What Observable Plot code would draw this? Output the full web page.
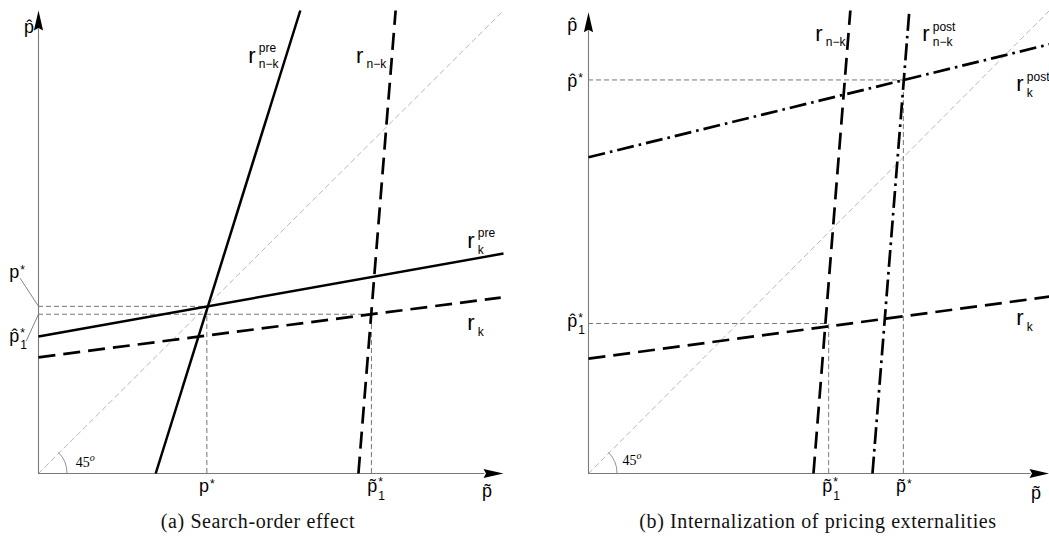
<!DOCTYPE html>
<html>
<head>
<meta charset="utf-8">
<script src="https://cdn.jsdelivr.net/npm/d3@7"></script>
<script src="https://cdn.jsdelivr.net/npm/@observablehq/plot@0.6"></script>
<style>
  html, body { margin: 0; padding: 0; background: #fff; }
  #wrap { position: relative; width: 1049px; height: 548px; }
  #left { position: absolute; left: 0; top: 0; }
  #right { position: absolute; left: 524px; top: 0; }
  .cap { position: absolute; top: 510px; font-family: "Liberation Serif", "Times New Roman", serif; font-size: 20px; letter-spacing: 0.6px; line-height: 22px; color: #111; white-space: nowrap; text-align: center; }
  svg { overflow: visible; }
</style>
</head>
<body>
<div id="wrap">
  <div id="left"></div>
  <div id="right"></div>
  <div class="cap" style="left:0px;width:516px;">(a) Search-order effect</div>
  <div class="cap" style="left:560px;width:516px;">(b) Internalization of pricing externalities</div>
</div>
<script>
// ---------- Data (panel coordinates, 0–100 on each axis) ----------
// Panel (a): Search-order effect
const a_rnk_pre = [[25.2, 0], [56.3, 100]];   // r_{n-k}^{pre}, solid
const a_rnk     = [[68.8, 0], [76.8, 100]];   // r_{n-k}, dashed
const a_rk_pre  = [[0, 29.6], [100, 47.5]];   // r_k^{pre}, solid
const a_rk      = [[0, 25.1], [99.4, 38.0]];  // r_k, dashed
const a_diag    = [[0, 0], [100, 100]];       // 45° line
const a_pStar   = [36.2, 36.1];               // p* (x, y)
const a_p1Star  = [71.6, 34.4];               // p̃1* (x), p̂1* (y)

// Panel (b): Internalization of pricing externalities
const b_rk       = [[0, 24.8], [100, 38.2]];   // r_k, dashed
const b_rnk      = [[48.8, 0], [56.8, 100]];   // r_{n-k}, dashed
const b_rnk_post = [[61.6, 0], [69.6, 100]];   // r_{n-k}^{post}, dash-dot
const b_rk_post  = [[0, 68.3], [100, 92.7]];   // r_k^{post}, dash-dot
const b_diag     = [[0, 0], [100, 100]];
const b_pStar    = [68.3, 85.0];               // p̃* (x), p̂* (y)
const b_p1Star   = [52.1, 32.4];               // p̃1* (x), p̂1* (y)

// ---------- Styles ----------
const SANS = "Liberation Sans, Arial, Helvetica, sans-serif";
const SERIF = "Liberation Serif, Times New Roman, serif";
const HAT = "p\u0302", TIL = "p\u0303", MINUS = "n\u2212k";

const arrowHead = {
  draw(ctx) {
    ctx.moveTo(0, 0);
    ctx.lineTo(4.6, 20);
    ctx.lineTo(0, 17.5);
    ctx.lineTo(-4.6, 20);
    ctx.closePath();
  }
};

function line(data, kind) {
  const base = {x: d => d[0], y: d => d[1], stroke: "black", strokeWidth: 2.7, strokeLinecap: "butt"};
  if (kind === "dash") base.strokeDasharray = "17,8";
  if (kind === "dashdot") base.strokeDasharray = "17,5,2.6,5";
  if (kind === "solid") base.strokeWidth = 2.5;
  return Plot.line(data, base);
}

function guideH(y, x2) {
  return Plot.ruleY([y], {x1: 0, x2: x2, stroke: "#666", strokeWidth: 0.9, strokeDasharray: "5,3"});
}
function guideV(x, y2) {
  return Plot.ruleX([x], {y1: 0, y2: y2, stroke: "#666", strokeWidth: 0.9, strokeDasharray: "5,3"});
}
function diag(data) {
  return Plot.line(data, {x: d => d[0], y: d => d[1], stroke: "#b8b8b8", strokeWidth: 1, strokeDasharray: "5,4"});
}

function axes(yTip, xTip) {
  return [
    Plot.ruleX([0], {y1: 0, y2: yTip - 4, stroke: "#7a7a7a", strokeWidth: 1.1}),
    Plot.ruleY([0], {x1: 0, x2: xTip - 4, stroke: "#7a7a7a", strokeWidth: 1.1}),
    Plot.dot([[0, yTip]], {x: d => d[0], y: d => d[1], symbol: arrowHead, fill: "black", stroke: "none", r: 5}),
    Plot.dot([[xTip, 0]], {x: d => d[0], y: d => d[1], symbol: arrowHead, fill: "black", stroke: "none", r: 5, rotate: 90})
  ];
}

function arc(radius) {
  return (index, scales) => {
    const x0 = scales.x(0), y0 = scales.y(0);
    const p = d3.path();
    p.arc(x0, y0, radius, 0, -Math.PI / 4, true);
    return d3.create("svg:path").attr("d", p.toString()).attr("fill", "none")
      .attr("stroke", "#888").attr("stroke-width", 0.9).node();
  };
}

// label: base text with optional superscript / subscript
function lab(x, y, base, opt = {}) {
  const {sup, sub, kind = "p", family = SANS} = opt;
  const size = kind === "r" ? 22 : 18;
  const sdx = opt.sdx ?? (kind === "r" ? 10.5 : 11);
  const supDy = opt.supDy ?? (kind === "r" ? -11 : -4);
  const subDy = opt.subDy ?? (kind === "r" ? 5 : 7);
  const d = [{x, y}];
  const common = {x: "x", y: "y", textAnchor: "start", lineAnchor: "bottom", fill: "black", fontFamily: family};
  const ms = [Plot.text(d, {...common, text: () => base, fontSize: opt.size ?? size})];
  if (sup) ms.push(Plot.text(d, {...common, text: () => sup, fontSize: opt.supSize ?? 12, dx: sdx, dy: supDy, fontStyle: opt.supStyle}));
  if (sub) ms.push(Plot.text(d, {...common, text: () => sub, fontSize: 12, dx: sdx, dy: subDy}));
  return ms;
}

function frame(width, marginLeft, marginRight, marks) {
  return Plot.plot({
    width, height: 505,
    marginLeft, marginRight, marginTop: 10, marginBottom: 32,
    x: {domain: [0, 100], axis: null},
    y: {domain: [0, 100], axis: null},
    style: {overflow: "visible", background: "transparent"},
    marks
  });
}

// ---------- Panel (a) ----------
const left = frame(524, 38, 21, [
  diag(a_diag),
  arc(29),
  guideH(a_pStar[1], a_pStar[0]),
  guideV(a_pStar[0], a_pStar[1]),
  guideH(a_p1Star[1], a_p1Star[0]),
  guideV(a_p1Star[0], a_p1Star[1]),
  ...axes(100, 100),
  line(a_rnk_pre, "solid"),
  line(a_rk_pre, "solid"),
  line(a_rnk, "dash"),
  line(a_rk, "dash"),
  // leader lines for y-side labels
  Plot.line([[-3.9, 42.1], [0, a_pStar[1]]], {x: d => d[0], y: d => d[1], stroke: "#777", strokeWidth: 0.9}),
  Plot.line([[-2.6, 28.7], [0, a_p1Star[1]]], {x: d => d[0], y: d => d[1], stroke: "#777", strokeWidth: 0.9}),
  ...lab(-3.1, 95.2, HAT),
  ...lab(-6.3, 42.3, "p", {sup: "*"}),
  ...lab(-6.3, 28.5, HAT, {sup: "*", sub: "1", supDy: -5}),
  ...lab(34.5, -3.9, "p", {sup: "*"}),
  ...lab(70.7, -3.9, TIL, {sup: "*", sub: "1", supDy: -5.5, subDy: 8}),
  ...lab(95.4, -5.0, TIL),
  ...lab(8.0, 1.3, "45", {family: SERIF, size: 14, sup: "o", supStyle: "italic", supSize: 10, sdx: 14, supDy: -6}),
  ...lab(45.1, 88.6, "r", {kind: "r", sup: "pre", sub: MINUS}),
  ...lab(68.3, 88.6, "r", {kind: "r", sub: MINUS}),
  ...lab(92.2, 48.6, "r", {kind: "r", sup: "pre", sub: "k", subDy: 6}),
  ...lab(92.2, 30.9, "r", {kind: "r", sub: "k", subDy: 6})
]);
document.getElementById("left").appendChild(left);

// ---------- Panel (b) ----------
const right = frame(525, 64, 0, [
  diag(b_diag),
  arc(29),
  guideH(b_pStar[1], b_pStar[0]),
  guideV(b_pStar[0], b_pStar[1]),
  guideH(b_p1Star[1], b_p1Star[0]),
  guideV(b_p1Star[0], b_p1Star[1]),
  ...axes(99.6, 100),
  line(b_rk, "dash"),
  line(b_rnk, "dash"),
  line(b_rnk_post, "dashdot"),
  line(b_rk_post, "dashdot"),
  ...lab(-4.6, 95.5, HAT),
  ...lab(-4.6, 83.4, HAT, {sup: "*", supDy: -5}),
  ...lab(-4.6, 31.7, HAT, {sup: "*", sub: "1", supDy: -5}),
  ...lab(50.7, -3.9, TIL, {sup: "*", sub: "1", supDy: -5.5, subDy: 8}),
  ...lab(66.7, -3.9, TIL, {sup: "*"}),
  ...lab(96.0, -5.4, TIL),
  ...lab(7.4, 1.9, "45", {family: SERIF, size: 14, sup: "o", supStyle: "italic", supSize: 10, sdx: 14, supDy: -6}),
  ...lab(49.2, 93.5, "r", {kind: "r", sub: MINUS}),
  ...lab(72.4, 93.5, "r", {kind: "r", sup: "post", sub: MINUS, supDy: -10}),
  ...lab(92.8, 82.7, "r", {kind: "r", sup: "post", sub: "k", supDy: -10, subDy: 6}),
  ...lab(92.8, 32.0, "r", {kind: "r", sub: "k", subDy: 6})
]);
document.getElementById("right").appendChild(right);
</script>
</body>
</html>
